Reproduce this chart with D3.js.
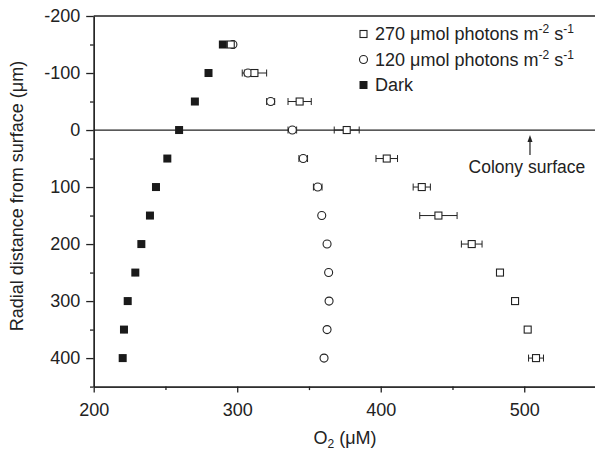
<!DOCTYPE html>
<html>
<head>
<meta charset="utf-8">
<script src="https://cdn.jsdelivr.net/npm/d3@7"></script>
<style>
  body { margin: 0; background: #fff; }
  text { font-family: "Liberation Sans", Arial, sans-serif; fill: #222; }
</style>
</head>
<body>
<svg id="chart" width="595" height="451"></svg>
<script>
// depth below colony surface (um), negative = above
var depth = [-150, -100, -50, 0, 50, 100, 150, 200, 250, 300, 350, 400];

// O2 (uM)
var high = [295.5, 312, 343.5, 376.3, 404.2, 428.6, 440.2, 463.4, 483.1, 493.6, 502.4, 508.2];
var highErr = [2, 8.5, 8.1, 8.7, 7.5, 6, 13, 7.2, 1, 1, 1.5, 5.2];
var low = [297, 307.5, 323.3, 338.4, 346, 356.1, 358.9, 362.6, 363.7, 364, 362.6, 360.5];
var lowErr = [1.5, 2.5, 2.8, 3, 3, 3, 1, 0.5, 0.8, 0.8, 0.3, 0.8];
var dark = [290, 280, 270.5, 259.5, 251.3, 243.4, 239.2, 233.2, 229, 223.7, 221.1, 220.2];
var darkErr = [1.5, 1.3, 1.6, 0.8, 0.5, 0.5, 0.8, 1.0, 0.5, 0.5, 0.5, 0.5];

var xTicks = [200, 300, 400, 500], xMinor = [250, 350, 450];
var yTicks = [-200, -100, 0, 100, 200, 300, 400], yMinor = [-150, -50, 50, 150, 250, 350, 450];

var svg = d3.select("#chart"),
    ink = "#222";

var x = d3.scaleLinear().domain([200, 550]).range([93.7, 596]),
    y = d3.scaleLinear().domain([-200, 450]).range([16, 386.6]);

// plain hyphen for negatives, like the original
var fmt = function(d) { return String(d); };

// axes
svg.append("g").attr("transform", "translate(0," + y(450) + ")")
    .call(d3.axisBottom(x).tickValues(xTicks).tickFormat(fmt).tickSize(6).tickSizeOuter(0).tickPadding(11));
svg.append("g").attr("transform", "translate(0," + y(450) + ")")
    .call(d3.axisBottom(x).tickValues(xMinor).tickSize(3.5).tickSizeOuter(0).tickFormat(""));
svg.append("g").attr("transform", "translate(" + x(200) + ",0)")
    .call(d3.axisLeft(y).tickValues(yTicks).tickFormat(fmt).tickSize(7.5).tickSizeOuter(0).tickPadding(6));
svg.append("g").attr("transform", "translate(" + x(200) + ",0)")
    .call(d3.axisLeft(y).tickValues(yMinor).tickSize(3.7).tickSizeOuter(0).tickFormat(""));

svg.selectAll(".domain, .tick line").attr("stroke", ink).attr("stroke-width", 1.3);
svg.selectAll(".tick text").attr("font-size", 18).attr("fill", ink)
    .style("font-family", '"Liberation Sans", Arial, sans-serif');

// top frame and surface line
svg.append("line").attr("x1", x(200)).attr("x2", x(550)).attr("y1", y(-200)).attr("y2", y(-200))
    .attr("stroke", ink).attr("stroke-width", 1.3);
svg.append("line").attr("x1", x(200)).attr("x2", x(550)).attr("y1", y(0)).attr("y2", y(0))
    .attr("stroke", ink).attr("stroke-width", 1.3);

// error bars
function errBars(vals, errs) {
  var g = svg.append("g").attr("stroke", ink).attr("stroke-width", 1);
  depth.forEach(function(d, i) {
    var x0 = x(vals[i] - errs[i]), x1 = x(vals[i] + errs[i]), yy = y(d);
    g.append("line").attr("x1", x0).attr("x2", x1).attr("y1", yy).attr("y2", yy);
    g.append("line").attr("x1", x0).attr("x2", x0).attr("y1", yy - 3.5).attr("y2", yy + 3.5);
    g.append("line").attr("x1", x1).attr("x2", x1).attr("y1", yy - 3.5).attr("y2", yy + 3.5);
  });
}
errBars(high, highErr);
errBars(low, lowErr);
errBars(dark, darkErr);

var s = 7;
// 120 - open circles
svg.append("g").selectAll("circle").data(depth).join("circle")
    .attr("cx", function(d, i) { return x(low[i]); })
    .attr("cy", function(d) { return y(d); })
    .attr("r", 4)
    .attr("fill", "#fff").attr("stroke", ink).attr("stroke-width", 1.1);
// 270 - open squares
svg.append("g").selectAll("rect").data(depth).join("rect")
    .attr("x", function(d, i) { return x(high[i]) - s / 2; })
    .attr("y", function(d) { return y(d) - s / 2; })
    .attr("width", s).attr("height", s)
    .attr("fill", "#fff").attr("stroke", ink).attr("stroke-width", 1.1);
// dark - filled squares
svg.append("g").selectAll("rect").data(depth).join("rect")
    .attr("x", function(d, i) { return x(dark[i]) - 4; })
    .attr("y", function(d) { return y(d) - 4; })
    .attr("width", 8).attr("height", 8)
    .attr("fill", "#1a1a1a");

// legend
var legend = [
  {label: "270 \u03bcmol photons m", type: "sq"},
  {label: "120 \u03bcmol photons m", type: "ci"},
  {label: "Dark", type: "fill"}
];
var lg = svg.append("g");
legend.forEach(function(l, i) {
  var ly = 34 + i * 25.5, lx = 363.5;
  if (l.type == "sq") lg.append("rect").attr("x", lx - 3.5).attr("y", ly - 3.5).attr("width", 7).attr("height", 7)
      .attr("fill", "#fff").attr("stroke", ink).attr("stroke-width", 1.1);
  if (l.type == "ci") lg.append("circle").attr("cx", lx).attr("cy", ly).attr("r", 4)
      .attr("fill", "#fff").attr("stroke", ink).attr("stroke-width", 1.1);
  if (l.type == "fill") lg.append("rect").attr("x", lx - 4).attr("y", ly - 4).attr("width", 8).attr("height", 8)
      .attr("fill", "#1a1a1a");
  var t = lg.append("text").attr("x", lx + 11.5).attr("y", ly + 6.3).attr("font-size", 18).text(l.label);
  if (l.type != "fill") {
    t.append("tspan").attr("font-size", 12).attr("dy", -7).text("-2");
    t.append("tspan").attr("font-size", 18).attr("dy", 7).text(" s");
    t.append("tspan").attr("font-size", 12).attr("dy", -7).text("-1");
  }
});

// colony surface annotation
var ax = x(504);
svg.append("line").attr("x1", ax).attr("x2", ax).attr("y1", y(0) + 25).attr("y2", y(0) + 9)
    .attr("stroke", ink).attr("stroke-width", 1.2);
svg.append("path").attr("d", "M" + ax + "," + (y(0) + 5) + "L" + (ax - 2.5) + "," + (y(0) + 12) + "L" + (ax + 2.5) + "," + (y(0) + 12) + "Z")
    .attr("fill", ink);
svg.append("text").attr("x", ax - 3).attr("y", y(0) + 43).attr("text-anchor", "middle")
    .attr("font-size", 17.5).text("Colony surface");

// axis titles
var xt = svg.append("text").attr("x", 345).attr("y", 444).attr("text-anchor", "middle").attr("font-size", 18);
xt.append("tspan").text("O");
xt.append("tspan").attr("font-size", 12).attr("dy", 4).text("2");
xt.append("tspan").attr("dy", -4).text(" (\u03bcM)");

svg.append("text").attr("transform", "translate(23,196) rotate(-90)").attr("text-anchor", "middle")
    .attr("font-size", 18).text("Radial distance from surface (\u03bcm)");
</script>
</body>
</html>
